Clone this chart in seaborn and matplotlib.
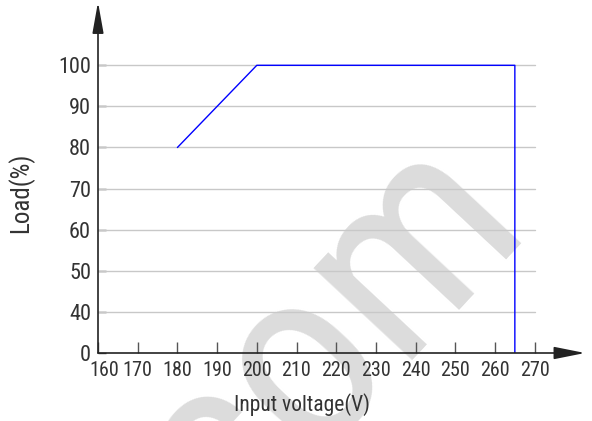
import numpy as np
import matplotlib
matplotlib.use('Agg')
import matplotlib.pyplot as plt
import matplotlib.transforms as mtransforms
import seaborn as sns

# data
voltage = [180, 200, 265, 265]
load = [80, 100, 100, 0]
x_ticks = [160, 170, 180, 190, 200, 210, 220, 230, 240, 250, 260, 270]
y_ticks = [0, 40, 50, 60, 70, 80, 90, 100]

sns.set_theme(style='white')
plt.rcParams['font.family'] = ['Roboto Condensed', 'Liberation Sans', 'DejaVu Sans']


# broken y axis: 0..40 squeezed into one grid step
def fwd(v):
    v = np.asarray(v, dtype=float)
    return np.where(v >= 40, v, 30 + v * 10 / 40)


def inv(p):
    p = np.asarray(p, dtype=float)
    return np.where(p >= 40, p, (p - 30) * 40 / 10)


fig = plt.figure(figsize=(5.92, 4.21), dpi=100)
ax = fig.add_axes([98 / 592, 68 / 421, (585 - 98) / 592, (419 - 68) / 421])
ax.patch.set_visible(False)

# watermark
fig.text(0.387, -0.292, 'com', rotation=47, rotation_mode='anchor', fontsize=185,
         color='#dcdcdc', ha='left', va='baseline', zorder=-5)

ax.set_yscale('function', functions=(fwd, inv))
ax.set_xlim(160, 160 + (585 - 98) / 3.97)
ax.set_ylim(0, 115.4)

for v in y_ticks[1:]:
    ax.plot([160, 270], [v, v], color='#c8c8c8', lw=1, zorder=1)

sns.lineplot(x=voltage, y=load, sort=False, estimator=None, color='#0000ff',
             lw=1, ax=ax, zorder=3)

for s in ax.spines.values():
    s.set_visible(False)

arrow = dict(arrowstyle='-|>,head_length=1.9,head_width=0.38', color='#222222',
             lw=1.2, mutation_scale=10, shrinkA=0, shrinkB=0)
ax.annotate('', xy=(1, 0), xytext=(0, 0), xycoords='axes fraction',
            arrowprops=arrow, annotation_clip=False)
ax.annotate('', xy=(0, 1), xytext=(0, 0), xycoords='axes fraction',
            arrowprops=dict(arrow, arrowstyle='-|>,head_length=1.9,head_width=0.34'),
            annotation_clip=False)

ax.set_xticks(x_ticks)
ax.set_xticklabels([str(t) for t in x_ticks])
ax.set_yticks(y_ticks)
ax.set_yticklabels([str(t) for t in y_ticks])
ax.tick_params(axis='x', direction='in', length=8, width=1, color='#555555',
               labelsize=14.5, pad=6, labelcolor='#333333', bottom=True)
ax.tick_params(axis='y', direction='in', length=6, width=1, color='#444444',
               labelsize=16, pad=5, labelcolor='#333333', left=True)

lbl = ax.get_xticklabels()[0]
lbl.set_transform(lbl.get_transform() + mtransforms.ScaledTranslation(6 / 100, 0, fig.dpi_scale_trans))

ax.set_xlabel('Input voltage(V)', fontsize=15.5, color='#333333')
ax.xaxis.set_label_coords((302 - 98) / 487, (353 - 393) / 351)
ax.set_ylabel('Load(%)', fontsize=18, color='#333333')
ax.yaxis.set_label_coords((34 - 98) / 487, (353 - 193) / 351)

fig.savefig('out.png', dpi=100)
